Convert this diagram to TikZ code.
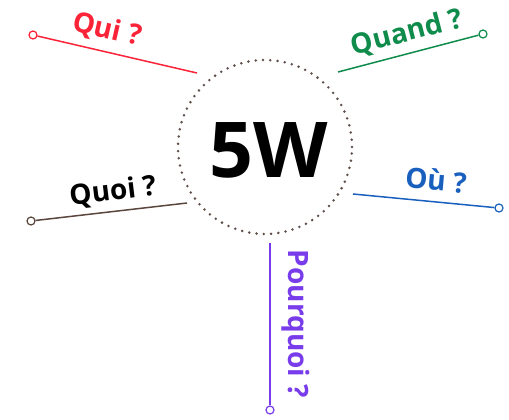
\documentclass[tikz,border=0pt]{standalone}
\usepackage{fontspec}
\setmainfont{Open Sans}

\definecolor{quired}{RGB}{250,35,55}
\definecolor{quandgreen}{RGB}{15,140,75}
\definecolor{quoibrown}{RGB}{90,70,60}
\definecolor{oublue}{RGB}{25,95,190}
\definecolor{pourquoipurple}{RGB}{120,60,235}
\definecolor{dotgray}{RGB}{95,80,75}

\tikzset{every picture/.style={line width=1.5pt}}
\tikzset{
  pinend/.style={circle,draw,fill=white,line width=1.2pt,inner sep=0pt,minimum size=8pt},
  spoke/.style={line width=1.5pt},
  wtext/.style={font=\fontsize{28}{30}\selectfont\bfseries,inner sep=0pt}
}

\begin{document}
\begin{tikzpicture}[x=1pt,y=1pt,yscale=-1,xscale=1]
\path[use as bounding box] (0,0) rectangle (509,420);

%Dotted circle
\node [circle,draw=dotgray,line width=2.8pt,line cap=round,dash pattern={on 0pt off 7.3pt},minimum size=174pt,inner sep=0pt] (core) at (265,147) {};
% Text Node
\node [font=\fontsize{77}{80}\selectfont\bfseries,inner sep=0pt] (title) at (269,150) {5W};

%Spoke ends near the circle
\coordinate (quiend) at (197,73);
\coordinate (quandend) at (338,72);
\coordinate (quoiend) at (187,203);
\coordinate (ouend) at (353,194);
\coordinate (pourquoiend) at (270,243);

%Qui
\node [pinend,draw=quired] (quipin) at (33,35) {};
\draw [spoke,quired] (quipin) -- (quiend);
\node [wtext,text=quired,rotate=-13] (qui) at (107,30) {Qui ?};

%Quand
\node [pinend,draw=quandgreen] (quandpin) at (483,34) {};
\draw [spoke,quandgreen] (quandend) -- (quandpin);
\node [wtext,text=quandgreen,rotate=14.5] (quand) at (407,33) {Quand ?};

%Quoi
\node [pinend,draw=quoibrown] (quoipin) at (31,221) {};
\draw [spoke,quoibrown] (quoipin) -- (quoiend);
\node [wtext,text=black,rotate=7] (quoi) at (113,192) {Quoi ?};

%Où
\node [pinend,draw=oublue] (oupin) at (499,208) {};
\draw [spoke,oublue] (ouend) -- (oupin);
\node [wtext,text=oublue,rotate=-5] (ou) at (436,180) {Où ?};

%Pourquoi
\node [pinend,draw=pourquoipurple] (pourquoipin) at (270,410) {};
\draw [spoke,pourquoipurple] (pourquoiend) -- (pourquoipin);
\node [wtext,text=pourquoipurple,rotate=-90] (pourquoi) at (296,324) {Pourquoi ?};

\end{tikzpicture}
\end{document}
